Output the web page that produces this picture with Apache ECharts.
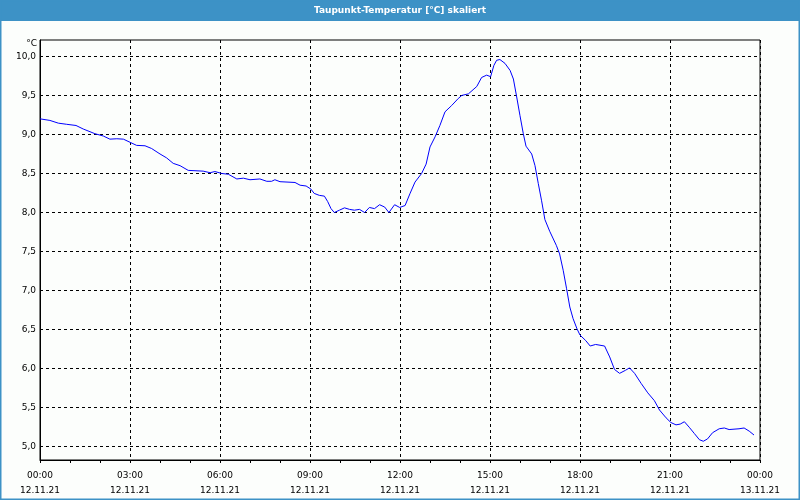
<!DOCTYPE html>
<html>
<head>
<meta charset="utf-8">
<script src="https://cdn.jsdelivr.net/npm/echarts@6/dist/echarts.min.js"></script>
<style>html,body{margin:0;padding:0;background:#fcfefc;}#c{width:800px;height:500px;}</style>
</head>
<body>
<div id="c"></div>
<script>
const chartTitle = 'Taupunkt-Temperatur [°C] skaliert';
const yUnit = '°C';
const hours = [0,0.33,0.61,0.89,1.2,1.44,1.83,2.11,2.33,2.56,2.78,3.0,3.22,3.5,3.72,4.0,4.22,4.44,4.67,4.94,5.44,5.67,5.83,6.06,6.28,6.56,6.78,7.0,7.33,7.56,7.72,7.83,8.0,8.5,8.67,8.87,9.03,9.14,9.31,9.48,9.59,9.70,9.81,9.98,10.15,10.32,10.48,10.65,10.82,10.98,11.15,11.32,11.49,11.63,11.82,11.99,12.17,12.33,12.5,12.72,12.87,13.0,13.17,13.33,13.5,13.72,13.94,14.06,14.28,14.56,14.72,14.89,15.02,15.13,15.22,15.33,15.5,15.67,15.78,15.89,16.0,16.11,16.2,16.39,16.5,16.61,16.72,16.83,16.99,17.21,17.32,17.44,17.55,17.66,17.77,17.9,18.0,18.19,18.34,18.52,18.82,18.99,19.15,19.32,19.52,19.65,19.82,20.04,20.26,20.48,20.65,20.87,21.03,21.2,21.34,21.48,21.64,21.81,21.98,22.11,22.25,22.42,22.64,22.81,22.97,23.3,23.47,23.64,23.8];
const dewpoint = [9.20,9.18,9.145,9.13,9.115,9.07,9.01,8.98,8.94,8.945,8.94,8.90,8.86,8.855,8.82,8.75,8.70,8.63,8.60,8.54,8.53,8.51,8.525,8.50,8.49,8.43,8.44,8.42,8.43,8.40,8.40,8.42,8.395,8.385,8.35,8.34,8.30,8.245,8.22,8.21,8.14,8.05,8.00,8.03,8.06,8.04,8.03,8.04,8.00,8.065,8.05,8.10,8.07,8.00,8.10,8.065,8.09,8.24,8.39,8.50,8.62,8.84,8.97,9.115,9.29,9.37,9.46,9.50,9.52,9.615,9.73,9.76,9.74,9.885,9.95,9.96,9.91,9.82,9.71,9.48,9.24,9.01,8.85,8.75,8.60,8.37,8.15,7.91,7.76,7.58,7.47,7.26,7.03,6.79,6.64,6.51,6.43,6.36,6.29,6.31,6.29,6.15,5.99,5.94,5.98,6.01,5.94,5.81,5.69,5.59,5.47,5.37,5.31,5.28,5.29,5.32,5.25,5.17,5.09,5.07,5.10,5.18,5.23,5.24,5.22,5.23,5.24,5.20,5.15];
const xTickHours = [0,3,6,9,12,15,18,21,24];
const xTickTimes = ['00:00','03:00','06:00','09:00','12:00','15:00','18:00','21:00','00:00'];
const xTickDates = ['12.11.21','12.11.21','12.11.21','12.11.21','12.11.21','12.11.21','12.11.21','12.11.21','13.11.21'];
const yTickValues = [5.0,5.5,6.0,6.5,7.0,7.5,8.0,8.5,9.0,9.5,10.0];

const font = "'DejaVu Sans', Verdana, sans-serif";
const chart = echarts.init(document.getElementById('c'));
const dash = {color:'#000', width:1, type:[3,3]};
chart.setOption({
  backgroundColor:'#fcfefc',
  animation:false,
  grid:{left:40, right:40, top:40, bottom:40, show:true, borderColor:'#000', borderWidth:1, backgroundColor:'transparent'},
  xAxis:{
    type:'value', min:0, max:24, interval:3,
    axisLine:{show:true, lineStyle:{color:'#000', width:1}},
    axisTick:{show:true, length:3, lineStyle:{color:'#000'}},
    minorTick:{show:true, splitNumber:3, length:3, lineStyle:{color:'#000'}},
    splitLine:{show:true, lineStyle:dash},
    axisLabel:{color:'#000', fontFamily:font, fontSize:9, margin:8, lineHeight:15,
      formatter:function(v){const i = xTickHours.indexOf(v); return i<0 ? '' : xTickTimes[i]+'\n'+xTickDates[i];}}
  },
  yAxis:{
    type:'value', min:4.83, max:10.21,
    axisLine:{show:true, lineStyle:{color:'#000', width:1}},
    axisTick:{show:true, length:0, customValues:yTickValues},
    splitLine:{show:true, lineStyle:dash},
    axisLabel:{color:'#000', fontFamily:font, fontSize:9, margin:4, customValues:yTickValues,
      formatter:function(v){return v.toFixed(1).replace('.', ',');}}
  },
  graphic:[
    {type:'rect', shape:{x:0,y:0,width:800,height:21}, style:{fill:'#3d92c6'}, z:10},
    {type:'text', x:400, y:10.5, style:{text:chartTitle, fill:'#fff', font:'bold 9px '+font, align:'center', verticalAlign:'middle'}, z:11},
    {type:'rect', shape:{x:0.5,y:0.5,width:799,height:499}, style:{fill:'none', stroke:'#3d92c6', lineWidth:2}, z:10},
    {type:'text', x:37, y:44, style:{text:yUnit, fill:'#000', font:'9px '+font, align:'right', verticalAlign:'middle'}, z:11}
  ],
  series:[{
    type:'line', showSymbol:false, symbol:'none',
    lineStyle:{color:'#0000ff', width:1},
    data:hours.map((h,i)=>[h, dewpoint[i]])
  }]
});
</script>
</body>
</html>
